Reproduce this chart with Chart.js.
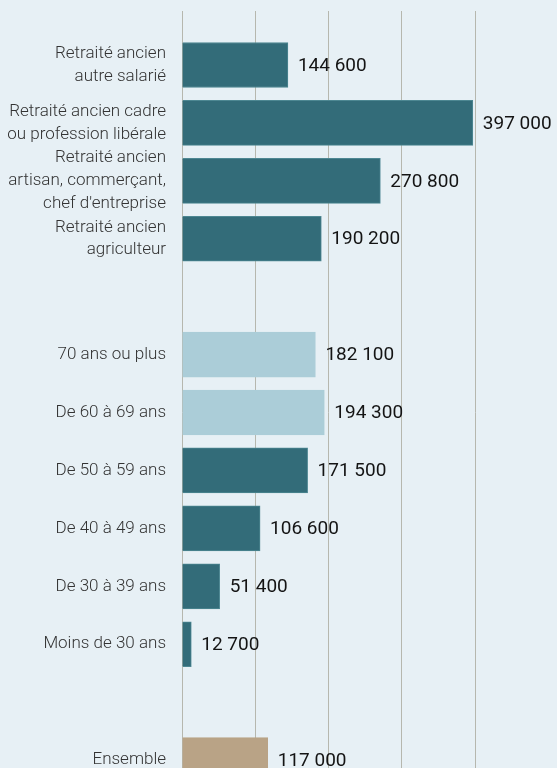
<!DOCTYPE html>
<html lang="fr">
<head>
<meta charset="utf-8">
<title>Niveau de vie</title>
<script src="https://cdn.jsdelivr.net/npm/chart.js@4.4.1/dist/chart.umd.min.js"></script>
<style>
    html, body {
        margin: 0;
        padding: 0;
        background: #e7f0f5;
        overflow: hidden;
    }
    canvas {
        display: block;
    }
</style>
</head>
<body>
<canvas id="chart" width="557" height="828"></canvas>
<script>
// Rows, top to bottom. Empty strings are spacer rows.
var categories = [
    ['Retraité ancien', 'autre salarié'],
    ['Retraité ancien cadre', 'ou profession libérale'],
    ['Retraité ancien', 'artisan, commerçant,', "chef d'entreprise"],
    ['Retraité ancien', 'agriculteur'],
    '',
    '70 ans ou plus',
    'De 60 à 69 ans',
    'De 50 à 59 ans',
    'De 40 à 49 ans',
    'De 30 à 39 ans',
    'Moins de 30 ans',
    '',
    'Ensemble'
];

var values = [144600, 397000, 270800, 190200, null, 182100, 194300, 171500, 106600, 51400, 12700, null, 117000];

// Colour group of each row: d = dark teal, l = light blue, t = tan.
var groups = ['d', 'd', 'd', 'd', '', 'l', 'l', 'd', 'd', 'd', 'd', '', 't'];

var xTicks = [0, 100000, 200000, 300000, 400000];

(function () {
    'use strict';

    var COLORS = {
        d: '#336c79',
        l: '#abcdd8',
        t: '#b9a386',
        grid: '#b6b7ae',
        label: '#333333',
        value: '#141414'
    };

    var BORDERS = {
        d: '#4d8792',
        l: '#abcdd8',
        t: '#b9a386'
    };

    /**
     * Format with a space as thousands separator (144 600).
     */
    function formatNumber(num) {
        return String(Math.round(num)).replace(/\B(?=(\d{3})+(?!\d))/g, ' ');
    }

    // Value labels just right of each bar.
    var valueLabels = {
        id: 'valueLabels',
        afterDatasetsDraw: function (chart) {
            var ctx = chart.ctx;
            var meta = chart.getDatasetMeta(0);
            ctx.save();
            ctx.font = '400 19px Roboto, sans-serif';
            ctx.fillStyle = COLORS.value;
            ctx.textAlign = 'left';
            ctx.textBaseline = 'middle';
            meta.data.forEach(function (bar, i) {
                if (values[i] === null) return;
                ctx.fillText(formatNumber(values[i]), bar.x + 10, bar.y + 1);
            });
            ctx.restore();
        }
    };

    new Chart(document.getElementById('chart').getContext('2d'), {
        type: 'bar',
        data: {
            labels: categories,
            datasets: [{
                data: values,
                backgroundColor: groups.map(function (g) { return COLORS[g] || 'transparent'; }),
                borderColor: groups.map(function (g) { return BORDERS[g] || 'transparent'; }),
                borderWidth: 1,
                borderSkipped: 'left',
                barThickness: 45
            }]
        },
        options: {
            indexAxis: 'y',
            responsive: false,
            animation: false,
            layout: {
                padding: { top: 11, right: 82, bottom: 2, left: 0 }
            },
            plugins: {
                legend: { display: false },
                tooltip: { enabled: false }
            },
            scales: {
                x: {
                    position: 'top',
                    min: 0,
                    max: 400000,
                    afterBuildTicks: function (scale) {
                        scale.ticks = xTicks.map(function (v) { return { value: v }; });
                    },
                    ticks: { display: false },
                    grid: {
                        color: COLORS.grid,
                        tickColor: COLORS.grid,
                        tickLength: 25,
                        lineWidth: 1
                    },
                    border: { display: false }
                },
                y: {
                    afterFit: function (scale) {
                        scale.width = 182;
                    },
                    ticks: {
                        autoSkip: false,
                        padding: 16,
                        color: COLORS.label,
                        font: {
                            family: 'Roboto, sans-serif',
                            size: 17,
                            weight: 300,
                            lineHeight: 1.35
                        }
                    },
                    grid: { display: false, drawTicks: false },
                    border: { display: false }
                }
            }
        },
        plugins: [valueLabels]
    });
})();
</script>
</body>
</html>
